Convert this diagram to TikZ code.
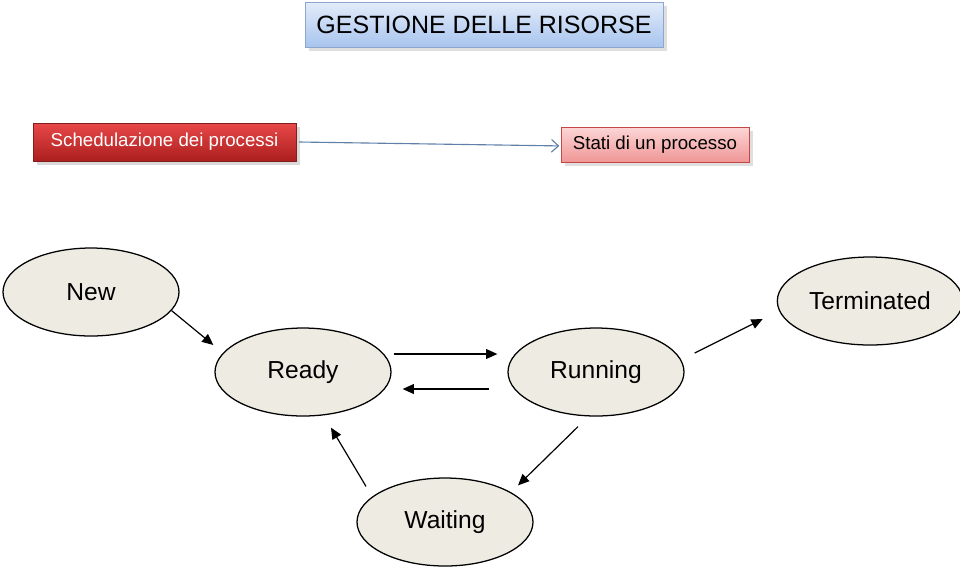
\documentclass[tikz,border=0pt]{standalone}
\usepackage{fontspec}
\setmainfont{Liberation Sans}
\usetikzlibrary{arrows.meta,positioning,shapes.geometric,shadows}
\definecolor{titletop}{RGB}{226,236,250}
\definecolor{titlebot}{RGB}{168,196,238}
\definecolor{titleline}{RGB}{140,166,206}
\definecolor{schedtop}{RGB}{232,72,72}
\definecolor{schedbot}{RGB}{172,30,30}
\definecolor{schedline}{RGB}{130,30,30}
\definecolor{statitop}{RGB}{252,214,214}
\definecolor{statibot}{RGB}{240,150,150}
\definecolor{statiline}{RGB}{196,70,70}
\definecolor{linkcolor}{RGB}{96,128,168}
\definecolor{statefill}{RGB}{238,235,226}

\begin{document}
\begin{tikzpicture}[
      every node/.style={font=\fontsize{17.5}{20}\selectfont},
      titlebox/.style={draw=titleline, top color=titletop, bottom color=titlebot,
        minimum width=8.95cm, minimum height=1.125cm, font=\fontsize{17.8}{20}\selectfont,
        drop shadow={opacity=0.25}},
      schedbox/.style={draw=schedline, top color=schedtop, bottom color=schedbot, text=white,
        minimum width=6.575cm, minimum height=0.95cm, font=\fontsize{13.3}{16}\selectfont,
        drop shadow={opacity=0.3}},
      statibox/.style={draw=statiline, top color=statitop, bottom color=statibot,
        minimum width=4.7cm, minimum height=0.875cm, font=\fontsize{13.3}{16}\selectfont,
        drop shadow={opacity=0.25}},
      state/.style={ellipse, draw, line width=0.9pt, fill=statefill,
        minimum width=4.4cm, minimum height=2.2cm},
      trans/.style={-{Triangle[length=8pt,width=7pt]}, line width=0.85pt},
      link/.style={-{Straight Barb[length=5pt,width=9pt]}, draw=linkcolor, line width=0.8pt}
    ]
    \useasboundingbox (0,0) rectangle (24,-14.275);
    % header
    \node[titlebox] (title) at (12.1,-0.6125) {GESTIONE DELLE RISORSE};
    \node[schedbox] (sched) at (4.1125,-3.55) {Schedulazione dei processi};
    \node[statibox] (stati) at (16.375,-3.6125) {Stati di un processo};
    \draw[link] ([xshift=2pt]sched.east) -- ([xshift=-1pt,yshift=-1pt]stati.west);
    % states
    \node[state] (new) at (2.275,-7.3) {New};
    \node[state] (ready) at (7.575,-9.3) {Ready};
    \node[state] (running) at (14.9,-9.3) {Running};
    \node[state] (term) at (21.75,-7.525) {Terminated};
    \node[state] (wait) at (11.125,-13.05) {Waiting};
    % transitions
    \draw[trans] (new.-13) -- ([xshift=-0.025cm,yshift=0.675cm]ready.west);
    \draw[trans] ([xshift=0.05cm,yshift=0.45cm]ready.east) -- ([xshift=-0.25cm,yshift=0.45cm]running.west);
    \draw[trans] ([xshift=-0.45cm,yshift=-0.425cm]running.west) -- ([xshift=0.275cm,yshift=-0.425cm]ready.east);
    \draw[trans] ([xshift=0.25cm,yshift=0.475cm]running.east) -- ([xshift=-0.35cm,yshift=-0.45cm]term.west);
    \draw[trans] ([xshift=-0.45cm,yshift=-0.25cm]running.south) -- ([xshift=1.825cm,yshift=-0.2cm]wait.north);
    \draw[trans] ([xshift=-1.975cm,yshift=-0.225cm]wait.north) -- ([xshift=0.7cm,yshift=-0.275cm]ready.south);
  \end{tikzpicture}
\end{document}
